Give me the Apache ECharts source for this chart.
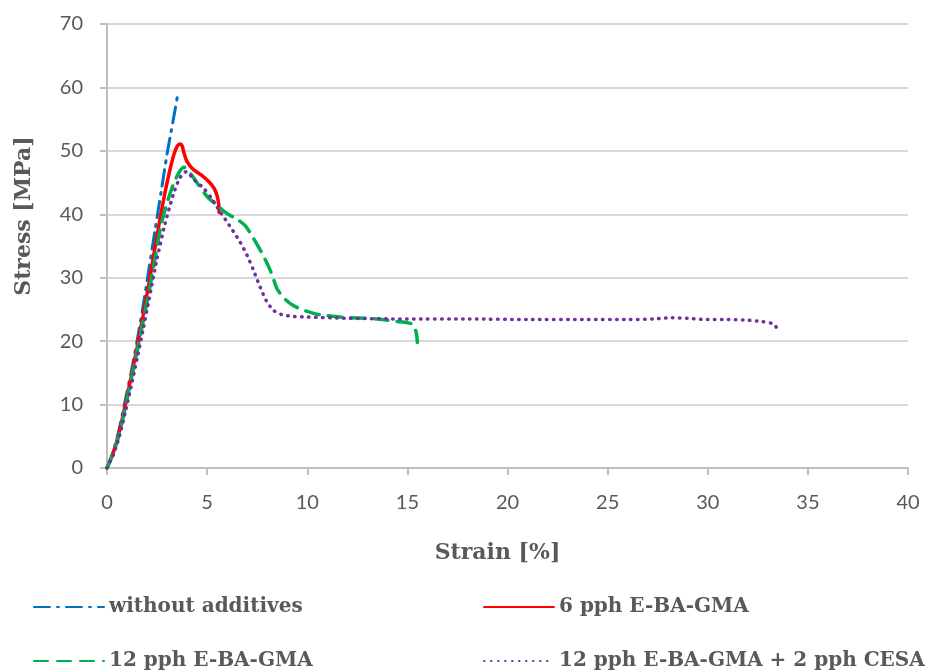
<!DOCTYPE html>
<html>
<head>
<meta charset="utf-8">
<script src="https://cdn.jsdelivr.net/npm/echarts@6/dist/echarts.min.js"></script>
<style>html,body{margin:0;padding:0;background:#fff}#c{width:933px;height:671px}</style>
</head>
<body>
<div id="c"></div>
<script>
const seriesNames = ['without additives', '6 pph E-BA-GMA', '12 pph E-BA-GMA', '12 pph E-BA-GMA + 2 pph CESA'];
const xTicks = { min: 0, max: 40, interval: 5 };
const yTicks = { min: 0, max: 70, interval: 10 };

const withoutAdditives = [[0,0],[0.3,2.5],[0.6,6],[0.9,10.5],[1.2,15],[1.5,20],[1.8,25.5],[2.1,31.5],[2.4,37.5],[2.7,43.5],[3.0,49.5],[3.2,53],[3.4,56.5],[3.55,59.2]];
const pph6 = [[0,0],[0.3,2.3],[0.6,5.5],[0.9,9.8],[1.2,14.3],[1.5,19],[1.8,24],[2.1,29.2],[2.4,34.8],[2.7,40.2],[3.0,45],[3.3,49],[3.5,50.7],[3.65,51.1],[3.75,50.8],[3.85,49.6],[4.0,48.3],[4.3,47.1],[4.7,46.2],[5.1,45.1],[5.35,44.1],[5.5,42.9],[5.58,41.5],[5.6,40.3]];
const pph12 = [[0,0],[0.3,2.2],[0.6,5.2],[0.9,9.3],[1.2,13.8],[1.5,18.3],[1.8,23],[2.1,27.8],[2.4,33],[2.7,38.3],[3.0,41.8],[3.3,44.6],[3.6,46.6],[3.85,47.4],[4.2,46.3],[4.6,44.5],[5.0,42.8],[5.5,41.4],[6.0,40.1],[6.5,39.2],[6.9,38.2],[7.3,36.3],[7.8,33.5],[8.2,30.8],[8.5,28.2],[8.9,26.6],[9.3,25.6],[9.8,24.9],[10.4,24.3],[11,24],[12,23.7],[13,23.6],[13.5,23.5],[14,23.3],[14.5,23.1],[15,22.9],[15.3,22.6],[15.45,21.2],[15.5,19.8]];
const pph12cesa = [[0,0],[0.3,2],[0.6,4.8],[0.9,8.6],[1.2,12.8],[1.5,17.2],[1.8,21.8],[2.1,26.6],[2.5,33],[2.9,38.5],[3.3,43],[3.6,45.5],[3.85,46.6],[4.0,46.7],[4.3,45.6],[4.8,44.2],[5.2,42.6],[5.65,40.4],[6.1,38.3],[6.65,35.6],[7.0,33.5],[7.3,31.3],[7.6,28.9],[7.95,26.4],[8.3,24.9],[8.7,24.2],[9.3,23.9],[10,23.8],[12,23.6],[15,23.5],[18,23.5],[21,23.4],[24,23.4],[26,23.4],[27.3,23.5],[28.2,23.7],[29,23.6],[30,23.4],[31,23.4],[32,23.3],[32.7,23.1],[33.2,22.8],[33.4,22.3],[33.55,21.3]];

const chart = echarts.init(document.getElementById('c'), null, { renderer: 'canvas' });
const labelColor = '#595959';
const legendFont = { fontFamily: 'DejaVu Serif', fontWeight: 'bold', fontSize: 20, color: labelColor };
function legendAt(name, left, top) {
  return { data: [name], left: left, top: top, itemWidth: 70, itemHeight: 14, itemGap: 0, textStyle: legendFont,
    selectedMode: false, itemStyle: { opacity: 0, borderWidth: 0 } };
}
function line(name, data, color, width, type, z) {
  return { name: name, type: 'line', data: data, showSymbol: false, symbol: 'none', smooth: 0.25, z: z,
    lineStyle: { color: color, width: width, type: type, cap: 'round' }, itemStyle: { color: color } };
}
chart.setOption({
  animation: false,
  grid: { left: 107, right: 25, top: 24, bottom: 203, containLabel: false },
  xAxis: {
    type: 'value', min: xTicks.min, max: xTicks.max, interval: xTicks.interval,
    name: 'Strain [%]', nameLocation: 'middle', nameGap: 74,
    nameTextStyle: { fontFamily: 'DejaVu Serif', fontWeight: 'bold', fontSize: 22, color: labelColor, padding: [0, 20, 0, 0] },
    axisLine: { show: true, lineStyle: { color: '#bfbfbf', width: 2 } },
    axisTick: { show: true, inside: false, length: 7, lineStyle: { color: '#bfbfbf', width: 2 } },
    axisLabel: { margin: 25, fontFamily: 'Lato', fontSize: 20, color: labelColor },
    splitLine: { show: false }
  },
  yAxis: {
    type: 'value', min: yTicks.min, max: yTicks.max, interval: yTicks.interval,
    name: 'Stress [MPa]', nameLocation: 'middle', nameGap: 72,
    nameTextStyle: { fontFamily: 'DejaVu Serif', fontWeight: 'bold', fontSize: 22, color: labelColor, padding: [0, 0, 0, 60] },
    axisLine: { show: true, lineStyle: { color: '#bfbfbf', width: 2 } },
    axisTick: { show: true, inside: false, length: 7, lineStyle: { color: '#bfbfbf', width: 2 } },
    axisLabel: { margin: 24, fontFamily: 'Lato', fontSize: 20, color: labelColor },
    splitLine: { show: true, lineStyle: { color: '#d9d9d9', width: 2 } }
  },
  legend: [
    legendAt(seriesNames[0], 28, 592),
    legendAt(seriesNames[1], 478, 592),
    legendAt(seriesNames[2], 28, 646),
    legendAt(seriesNames[3], 478, 646)
  ],
  series: [
    line(seriesNames[0], withoutAdditives, '#0070c0', 3, [16, 7, 2, 7], 2),
    line(seriesNames[1], pph6, '#ff0000', 3.5, 'solid', 3),
    line(seriesNames[2], pph12, '#00b050', 3.5, [14, 9], 4),
    line(seriesNames[3], pph12cesa, '#7030a0', 3.5, [0.5, 6.5], 5)
  ]
});
</script>
</body>
</html>
